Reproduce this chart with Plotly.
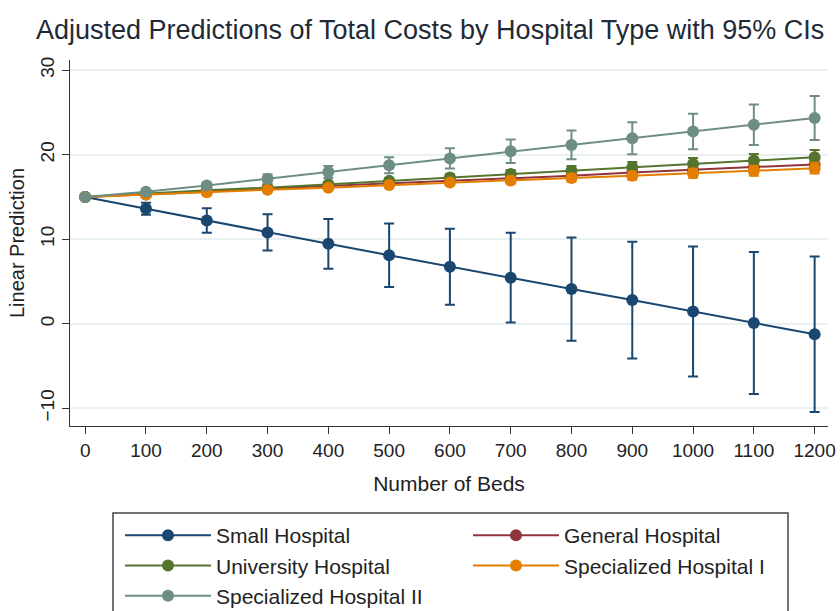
import plotly.graph_objects as go

beds = [0, 100, 200, 300, 400, 500, 600, 700, 800, 900, 1000, 1100, 1200]

small = [15.0, 13.6, 12.2, 10.8, 9.45, 8.1, 6.75, 5.45, 4.1, 2.8, 1.45, 0.08, -1.25]
small_ci = [0.0, 0.7, 1.45, 2.15, 2.95, 3.75, 4.5, 5.3, 6.1, 6.9, 7.7, 8.4, 9.2]

general = [15.0, 15.3, 15.6, 16.0, 16.3, 16.6, 16.9, 17.2, 17.5, 17.9, 18.2, 18.5, 18.85]
general_ci = [0.0, 0.06, 0.12, 0.18, 0.24, 0.3, 0.36, 0.42, 0.48, 0.54, 0.6, 0.66, 0.72]

university = [15.0, 15.4, 15.8, 16.1, 16.5, 16.9, 17.3, 17.7, 18.1, 18.5, 18.9, 19.3, 19.7]
university_ci = [0.0, 0.07, 0.14, 0.21, 0.28, 0.35, 0.42, 0.49, 0.56, 0.63, 0.7, 0.77, 0.84]

spec1 = [15.0, 15.3, 15.55, 15.85, 16.1, 16.4, 16.7, 16.95, 17.25, 17.5, 17.8, 18.1, 18.4]
spec1_ci = [0.0, 0.05, 0.1, 0.15, 0.2, 0.26, 0.31, 0.36, 0.42, 0.47, 0.52, 0.58, 0.63]

spec2 = [15.0, 15.6, 16.35, 17.15, 17.95, 18.75, 19.55, 20.4, 21.15, 21.95, 22.75, 23.55, 24.35]
spec2_ci = [0.0, 0.15, 0.3, 0.5, 0.7, 0.95, 1.2, 1.4, 1.7, 1.9, 2.1, 2.4, 2.6]

series = [
    ("Small Hospital", small, small_ci, "#1a476f"),
    ("General Hospital", general, general_ci, "#90353b"),
    ("University Hospital", university, university_ci, "#55752f"),
    ("Specialized Hospital I", spec1, spec1_ci, "#e37e00"),
    ("Specialized Hospital II", spec2, spec2_ci, "#6e8e84"),
]

x_ticks = beds
y_ticks = [-10, 0, 10, 20, 30]

FONT = "Liberation Sans, Arial, sans-serif"

fig = go.Figure()
for name, vals, ci, col in series:
    fig.add_trace(go.Scatter(
        x=beds, y=vals, name=name, mode="lines+markers",
        line=dict(color=col, width=2),
        marker=dict(color=col, size=12),
        error_y=dict(type="data", array=ci, symmetric=True, color=col, thickness=2, width=5),
    ))

# legend frame (pixel positions converted to paper coordinates)
L, R, T, B = 70, 828, 60, 426
def px(xp):
    return (xp - L) / (R - L)
def py(yp):
    return (B - yp) / (B - T)

fig.add_shape(type="rect", xref="paper", yref="paper",
              x0=px(113), x1=px(788), y0=py(513), y1=py(625),
              line=dict(color="#444444", width=1.5), fillcolor="rgba(0,0,0,0)", layer="above")

fig.update_layout(
    width=840, height=611,
    paper_bgcolor="white", plot_bgcolor="white",
    margin=dict(l=L, r=840 - R, t=T, b=611 - B, autoexpand=False),
    font=dict(family=FONT, color="#222222", size=18),
    title=dict(text="Adjusted Predictions of Total Costs by Hospital Type with 95% CIs",
               x=0.512, xanchor="center", y=0.951, yanchor="middle",
               font=dict(size=27, color="#1f2a36")),
    showlegend=True,
    legend=dict(orientation="h", x=px(120), xanchor="left", y=py(515), yanchor="top",
                borderwidth=0, bgcolor="rgba(0,0,0,0)",
                entrywidth=247, entrywidthmode="pixels", itemwidth=86,
                font=dict(size=21, color="#222222")),
    xaxis=dict(range=[-25, 1222], tickvals=x_ticks, ticks="outside", ticklen=7,
               tickcolor="#333333", showline=True, linecolor="#333333", linewidth=1,
               showgrid=False, zeroline=False, tickfont=dict(size=19),
               title=dict(text="Number of Beds", font=dict(size=21), standoff=16)),
    yaxis=dict(range=[-12.1, 31.2], tickvals=y_ticks, ticks="outside", ticklen=7,
               tickcolor="#333333", showline=True, linecolor="#333333", linewidth=1,
               showgrid=True, gridcolor="#e8f0f2", gridwidth=1.5, zeroline=False,
               tickangle=-90, tickfont=dict(size=19),
               title=dict(text="Linear Prediction", font=dict(size=20), standoff=7)),
)

fig.write_html("out.html", config={"displayModeBar": False},
               post_script="document.body.style.margin='0';document.body.style.overflow='hidden';")
